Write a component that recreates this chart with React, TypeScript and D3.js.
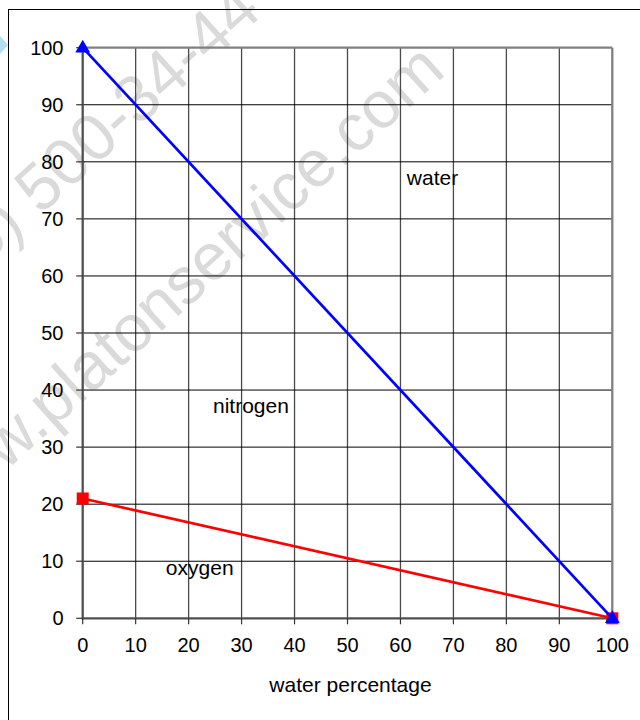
import React from "react";
import * as d3 from "d3";

// ---- data ----
const xTicks = [0, 10, 20, 30, 40, 50, 60, 70, 80, 90, 100];
const yTicks = [0, 10, 20, 30, 40, 50, 60, 70, 80, 90, 100];
const waterSeriesX = [0, 100];
const waterSeriesY = [100, 0];
const oxygenSeriesX = [0, 100];
const oxygenSeriesY = [21, 0];
const regionNames = ["water", "nitrogen", "oxygen"];
const regionAnchorX = [61.2, 24.6, 15.7];
const regionAnchorY = [75.9, 36, 7.6];
const xAxisTitle = "water percentage";
const watermarkLines = ["(095) 500-34-44", "www.platonservice.com"];

const W = 640;
const H = 720;
const FONT = "'Liberation Sans', Arial, Helvetica, sans-serif";

export default function App() {
  const x = d3.scaleLinear().domain([0, 100]).range([82.7, 612.3]);
  const y = d3.scaleLinear().domain([0, 100]).range([618.3, 47.7]);

  const line = d3
    .line<[number, number]>()
    .x((d) => x(d[0]))
    .y((d) => y(d[1]));

  const waterPts: [number, number][] = waterSeriesX.map((v, i) => [v, waterSeriesY[i]]);
  const oxyPts: [number, number][] = oxygenSeriesX.map((v, i) => [v, oxygenSeriesY[i]]);

  const tri = d3.symbol().type(d3.symbolTriangle).size(95)();

  const x0 = x(0), x1 = x(100), y0 = y(0), y1 = y(100);

  return (
    <svg
      width={W}
      height={H}
      style={{ position: "absolute", left: 0, top: 0, display: "block", background: "#fff" }}
      fontFamily={FONT}
    >
      <rect x={0} y={0} width={W} height={H} fill="#fff" />
      {/* watermark */}
      <g fill="#dadada" fontSize={66} fontFamily={FONT}>
        <text transform="translate(-88,331) rotate(-42)">{watermarkLines[0]}</text>
        <text transform="translate(-65,535) rotate(-42)">{watermarkLines[1]}</text>
      </g>
      <polygon points="0,36 8,45 0,54" fill="#9fd4f0" opacity={0.8} />

      {/* outer chart border */}
      <rect x={8.5} y={9.5} width={W} height={H} fill="none" stroke="#000" strokeWidth={1} />

      {/* vertical gridlines */}
      {xTicks.filter((t) => t > 0 && t < 100).map((t) => (
        <line key={"vx" + t} x1={x(t)} x2={x(t)} y1={y1} y2={y0} stroke="#4a4a4a" strokeWidth={1.3} />
      ))}
      {/* horizontal gridlines */}
      {yTicks.filter((t) => t > 0 && t < 100).map((t) => (
        <line key={"hy" + t} x1={x0} x2={x1} y1={y(t)} y2={y(t)} stroke="#000" strokeWidth={1} />
      ))}
      {/* plot area border (top & right) */}
      <line x1={x0} x2={x1} y1={y1} y2={y1} stroke="#808080" strokeWidth={2.3} />
      <line x1={x1} x2={x1} y1={y1} y2={y0} stroke="#808080" strokeWidth={2.3} />

      {/* axes */}
      <line x1={x0} x2={x0} y1={y1 - 1} y2={y0 + 1} stroke="#505050" strokeWidth={2.3} />
      <line x1={x0 - 1} x2={x1 + 1} y1={y0} y2={y0} stroke="#505050" strokeWidth={2.3} />
      {yTicks.map((t) => (
        <line key={"yt" + t} x1={x0 - 6.5} x2={x0} y1={y(t)} y2={y(t)} stroke="#333" strokeWidth={1.2} />
      ))}
      {xTicks.map((t) => (
        <line key={"xt" + t} x1={x(t)} x2={x(t)} y1={y0} y2={y0 + 6} stroke="#333" strokeWidth={1.2} />
      ))}

      {/* tick labels */}
      <g fontSize={20} fill="#000">
        {yTicks.map((t) => (
          <text key={"yl" + t} x={63.5} y={y(t) + 7} textAnchor="end">
            {t}
          </text>
        ))}
        {xTicks.map((t) => (
          <text key={"xl" + t} x={x(t)} y={652} textAnchor="middle">
            {t}
          </text>
        ))}
      </g>
      <text x={350.5} y={692} fontSize={21} textAnchor="middle" fill="#000">
        {xAxisTitle}
      </text>

      {/* region labels */}
      {regionNames.map((n, i) => (
        <text key={n} x={x(regionAnchorX[i])} y={y(regionAnchorY[i])} fontSize={21} fill="#000">
          {n}
        </text>
      ))}

      {/* oxygen series (red) */}
      <path d={line(oxyPts) || ""} fill="none" stroke="#ff0000" strokeWidth={2.7} />
      {oxyPts.map((p, i) => (
        <rect key={"os" + i} x={x(p[0]) - 6} y={y(p[1]) - 6} width={12} height={12} fill="#ff0000" />
      ))}

      {/* water series (blue) */}
      <path d={line(waterPts) || ""} fill="none" stroke="#0000ff" strokeWidth={2.7} />
      {waterPts.map((p, i) => (
        <path key={"wt" + i} d={tri || ""} transform={`translate(${x(p[0])},${y(p[1]) + 0.5})`} fill="#0000ff" />
      ))}
    </svg>
  );
}
